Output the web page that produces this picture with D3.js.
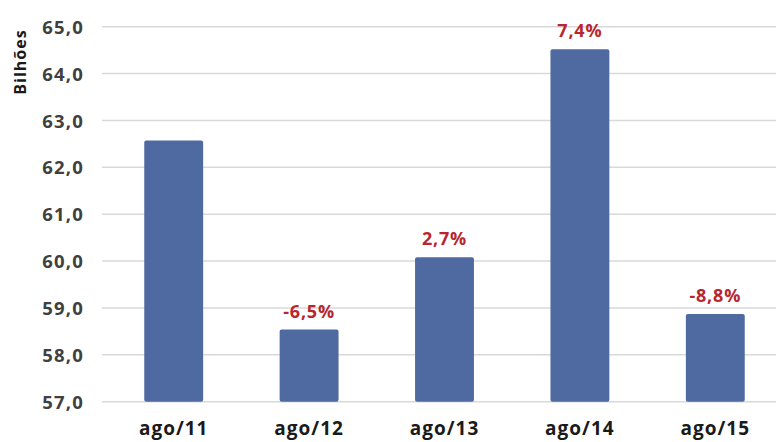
<!DOCTYPE html>
<html><head><meta charset="utf-8">
<script src="https://cdn.jsdelivr.net/npm/d3@7"></script>
<style>
html,body{margin:0;padding:0;background:#fff;}
svg{display:block;font-family:"Open Sans",sans-serif;}
</style></head>
<body>
<svg id="c" width="776" height="442"></svg>
<script>
const categories = ["ago/11","ago/12","ago/13","ago/14","ago/15"];
const values = [62.57, 58.54, 60.08, 64.52, 58.87];
const changes = [null, "-6,5%", "2,7%", "7,4%", "-8,8%"];
const yTicks = [57,58,59,60,61,62,63,64,65];
const yTitle = "Bilhões";

const svg = d3.select("#c");
const y = d3.scaleLinear().domain([57,65]).range([401.7,26.7]);
const x = d3.scaleBand().domain(categories).range([106,783]).paddingInner(0.565).paddingOuter(0.2825);

const rows = categories.map((c,i)=>({cat:c, value:values[i], change:changes[i]}));

// gridlines
svg.append("g").selectAll("line").data(yTicks).join("line")
  .attr("x1",102).attr("x2",776)
  .attr("y1",d=>y(d)).attr("y2",d=>y(d))
  .attr("stroke","#D9D9D9").attr("stroke-width",1.5);

// y axis labels
const yAxis = d3.axisLeft(y).tickValues(yTicks).tickSize(0).tickPadding(0)
  .tickFormat(d=>d3.format(".1f")(d).replace(".",","));
const ga = svg.append("g").attr("transform","translate(84,0)").call(yAxis);
ga.select(".domain").remove();
ga.selectAll("text").attr("font-family","Open Sans").attr("font-weight","bold")
  .attr("font-size",18.5).attr("letter-spacing",1.2).attr("fill","#404040").attr("dy","0.36em");

// y title
svg.append("text").attr("transform","translate(26,62) rotate(-90)")
  .attr("text-anchor","middle").attr("font-weight","bold").attr("font-size",16)
  .attr("letter-spacing",1).attr("fill","#1a1a1a").text(yTitle);

// bars
svg.append("g").selectAll("rect").data(rows).join("rect")
  .attr("x",d=>x(d.cat)).attr("width",x.bandwidth())
  .attr("y",d=>y(d.value)).attr("height",d=>y(57)-y(d.value))
  .attr("rx",2).attr("fill","#4F6AA0");

// change labels
svg.append("g").selectAll("text").data(rows.filter(d=>d.change!==null)).join("text")
  .attr("x",d=>x(d.cat)+x.bandwidth()/2)
  .attr("y",d=>y(d.value)-12)
  .attr("text-anchor","middle").attr("font-weight","bold").attr("font-size",18)
  .attr("letter-spacing",0.8).attr("fill","#B8262E")
  .text(d=>d.change);

// x axis labels
const xAxis = d3.axisBottom(x).tickSize(0).tickPadding(0);
const gx = svg.append("g").attr("transform","translate(0,401.7)").call(xAxis);
gx.select(".domain").remove();
gx.selectAll("text").attr("font-family","Open Sans").attr("font-weight","bold")
  .attr("font-size",19).attr("letter-spacing",1).attr("fill","#1a1a1a")
  .attr("dy",null).attr("y",33.5);
</script>
</body></html>
